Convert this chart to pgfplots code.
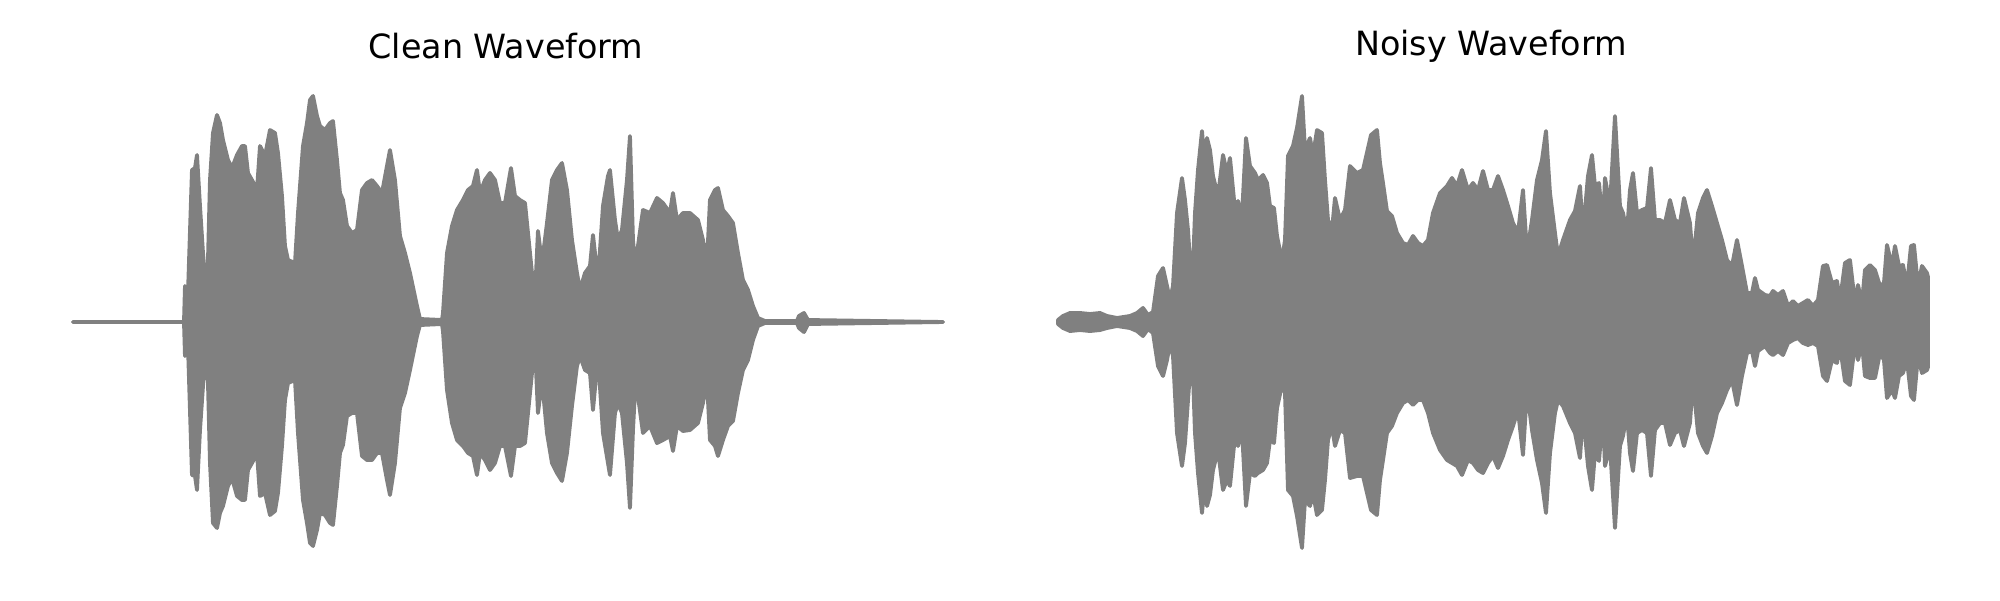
\documentclass[border=0pt]{standalone}
\usepackage{fontspec}
\setmainfont{DejaVu Sans}
\usepackage{pgfplots}
\usepackage{pgfplotstable}
\pgfplotsset{compat=1.18}

\pgfplotstableread{
x up lo
73 0 0
184 0 0
185 36 -34
188 29 -24
192 152 -153
195 154 -154
197 167 -168
200 116 -108
203 69 -64
207 22 -21
210 142 -141
213 189 -201
217 207 -206
220 199 -191
223 182 -184
228 162 -164
232 154 -156
237 167 -174
242 176 -178
245 176 -178
248 149 -148
252 142 -141
257 132 -131
260 176 -174
265 166 -171
270 192 -193
275 189 -189
278 169 -171
282 126 -124
285 76 -78
288 62 -61
295 59 -58
298 109 -111
303 176 -178
307 199 -201
310 222 -221
313 226 -224
317 206 -208
320 196 -191
325 192 -193
330 199 -201
333 201 -203
337 162 -164
340 129 -131
343 122 -123
347 96 -94
352 89 -91
357 92 -91
362 132 -134
367 139 -138
372 142 -138
377 136 -131
382 129 -131
387 156 -158
390 172 -173
395 142 -141
400 86 -86
405 69 -71
410 49 -48
417 16 -14
420 3 -3
442 2 -2
443 9 -9
447 69 -68
452 96 -101
457 112 -118
463 122 -124
468 132 -131
473 136 -134
477 152 -153
480 129 -131
485 142 -138
490 149 -148
495 142 -141
500 119 -124
505 119 -124
511 154 -154
515 126 -124
520 122 -124
525 119 -121
528 89 -91
532 49 -51
535 26 -24
538 91 -91
542 59 -58
547 99 -111
552 142 -141
557 152 -151
562 159 -159
567 132 -131
572 82 -84
577 49 -44
580 32 -34
585 49 -48
590 56 -51
593 87 -88
598 42 -34
603 116 -111
608 146 -141
610 152 -153
615 102 -91
618 82 -81
622 92 -91
627 142 -141
630 186 -186
633 82 -108
636 49 -51
638 76 -74
643 112 -111
650 109 -104
657 124 -121
663 119 -118
670 109 -114
673 129 -129
677 102 -104
683 109 -109
690 109 -108
698 102 -101
703 82 -81
707 59 -58
710 122 -118
715 132 -124
718 134 -134
723 112 -118
728 106 -104
733 99 -99
738 69 -71
743 42 -48
748 32 -38
753 16 -18
758 4 -4
765 1 -1
797 1 -1
799 6 -6
804 9 -10
808 2 -2
943 0 0
}\cleandata

\pgfplotstableread{
x up lo
1058 2 -2
1063 6 -6
1070 9 -9
1080 9 -8
1090 8 -9
1100 9 -8
1107 6 -6
1117 4 -4
1130 6 -6
1137 9 -9
1143 14 -14
1148 7 -7
1153 10 -11
1158 46 -44
1163 54 -54
1167 36 -38
1170 22 -21
1173 36 -34
1177 109 -111
1182 144 -144
1185 122 -121
1188 92 -78
1192 29 -24
1195 109 -111
1198 152 -151
1202 191 -191
1205 152 -158
1207 184 -184
1210 172 -173
1213 146 -148
1218 126 -128
1223 167 -168
1227 149 -158
1230 164 -164
1235 112 -114
1238 121 -124
1242 106 -108
1246 184 -184
1250 156 -151
1255 149 -154
1258 142 -151
1263 147 -148
1267 139 -141
1270 116 -118
1274 114 -121
1277 86 -86
1282 61 -63
1285 82 -71
1288 166 -168
1293 176 -174
1297 194 -194
1302 226 -226
1305 172 -178
1310 184 -184
1313 166 -171
1317 192 -193
1322 189 -188
1325 142 -158
1328 102 -118
1332 92 -104
1335 124 -124
1340 102 -108
1345 112 -111
1350 156 -156
1357 149 -154
1363 152 -154
1371 187 -188
1377 192 -193
1380 159 -158
1383 139 -138
1387 111 -111
1392 106 -104
1397 89 -91
1403 79 -81
1408 77 -78
1413 86 -83
1418 79 -78
1423 76 -78
1428 82 -91
1433 109 -111
1440 129 -128
1447 136 -138
1452 144 -141
1457 136 -144
1462 152 -153
1468 132 -138
1473 139 -141
1478 132 -148
1483 151 -151
1488 132 -141
1493 132 -134
1498 146 -146
1503 132 -134
1508 116 -118
1513 99 -104
1518 89 -88
1523 132 -133
1527 69 -68
1532 102 -108
1537 142 -138
1542 162 -161
1546 191 -191
1550 129 -131
1555 89 -91
1558 66 -78
1563 82 -84
1570 102 -101
1575 111 -111
1580 136 -136
1583 89 -91
1588 146 -144
1592 167 -168
1595 136 -131
1599 139 -139
1603 96 -91
1605 144 -144
1610 116 -124
1615 206 -206
1620 116 -124
1623 109 -114
1627 89 -91
1630 132 -131
1633 149 -149
1637 109 -111
1642 112 -108
1647 114 -111
1651 154 -154
1655 102 -108
1660 102 -101
1665 99 -101
1670 122 -123
1675 102 -111
1680 99 -108
1684 124 -124
1690 99 -101
1693 59 -58
1698 109 -111
1703 124 -124
1707 132 -131
1712 116 -114
1717 99 -91
1722 82 -81
1727 62 -68
1732 56 -58
1737 82 -83
1742 56 -54
1747 29 -31
1752 29 -29
1755 44 -44
1758 32 -29
1765 27 -24
1770 26 -31
1773 31 -33
1778 27 -29
1783 31 -33
1788 16 -21
1793 21 -18
1798 16 -16
1803 19 -21
1808 22 -23
1813 16 -21
1818 22 -24
1823 56 -54
1827 57 -59
1832 39 -38
1837 41 -41
1840 21 -24
1845 59 -59
1850 62 -63
1855 19 -21
1858 37 -38
1862 19 -21
1865 52 -54
1870 57 -56
1875 52 -56
1880 36 -31
1884 39 -38
1887 77 -76
1892 56 -68
1895 76 -76
1899 56 -54
1903 57 -51
1907 36 -38
1911 76 -74
1914 77 -78
1918 36 -34
1922 56 -51
1927 49 -48
1928 45 -45
}\noisydata

\pgfplotsset{
  wave/.style={
    scale only axis, hide axis, clip=false,
    height=6cm, ymin=-278, ymax=322,
    anchor=south west,
  },
  env/.style={draw=gray, fill=gray, line width=1.1pt, line join=round, line cap=round},
}

\begin{document}
\begin{tikzpicture}
\begin{axis}[wave, at={(0.4cm,0cm)}, width=9.4cm, xmin=40, xmax=980]
  \addplot[env] table[x=x, y=up] {\cleandata} \closedcycle;
  \addplot[env] table[x=x, y=lo] {\cleandata} \closedcycle;
  \node[font=\fontsize{9.5}{11}\selectfont] at (axis cs:506,276) {Clean Waveform};
\end{axis}
\begin{axis}[wave, at={(10.2cm,0cm)}, width=9.4cm, xmin=1020, xmax=1960]
  \addplot[env] table[x=x, y=up] {\noisydata} \closedcycle;
  \addplot[env] table[x=x, y=lo] {\noisydata} \closedcycle;
  \node[font=\fontsize{9.5}{11}\selectfont] at (axis cs:1491,276) {Noisy Waveform};
\end{axis}
\path (0,0) rectangle (20cm,6cm);
\end{tikzpicture}
\end{document}
